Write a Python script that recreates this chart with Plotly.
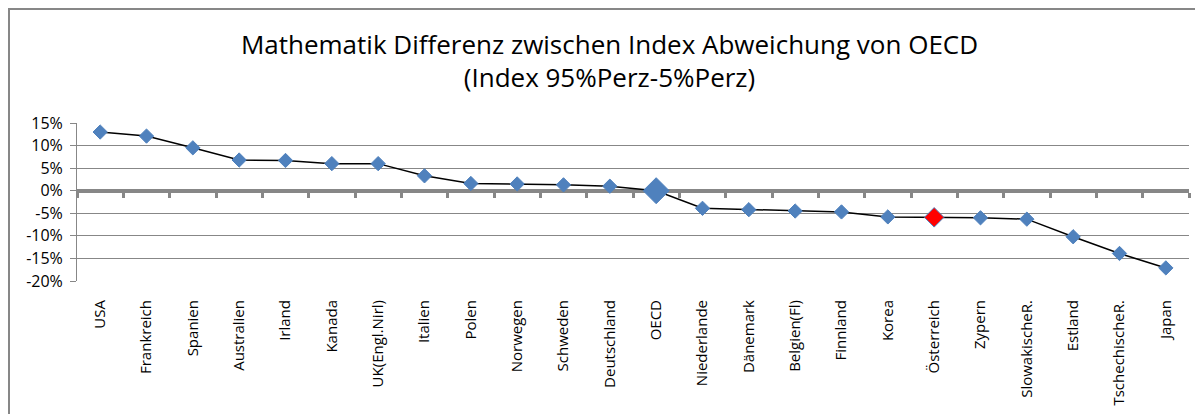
import plotly.graph_objects as go

laender = ["USA", "Frankreich", "Spanien", "Australien", "Irland", "Kanada", "UK(Engl.Nirl)",
           "Italien", "Polen", "Norwegen", "Schweden", "Deutschland", "OECD", "Niederlande",
           "Dänemark", "Belgien(Fl)", "Finnland", "Korea", "Österreich", "Zypern",
           "SlowakischeR.", "Estland", "TschechischeR.", "Japan"]
abweichung = [13.0, 12.1, 9.5, 6.8, 6.7, 6.0, 6.0, 3.3, 1.6, 1.5, 1.3, 1.0, 0.0, -3.9,
              -4.2, -4.5, -4.7, -5.8, -5.9, -6.0, -6.3, -10.2, -13.9, -17.1]
y_ticks = [15, 10, 5, 0, -5, -10, -15, -20]

blau = "#4F81BD"
grau = "#878787"

farben = []
groessen = []
for land in laender:
    if land == "OECD":
        farben.append(blau)
        groessen.append(20)
    elif land == "Österreich":
        farben.append("red")
        groessen.append(15)
    else:
        farben.append(blau)
        groessen.append(11)

fig = go.Figure()

# dummy trace so the crossing category axis at 0 gets its ticks
fig.add_trace(go.Scatter(x=laender, y=[None] * len(laender), xaxis="x2", yaxis="y",
                         mode="markers", showlegend=False, hoverinfo="skip"))

fig.add_trace(go.Scatter(
    x=laender, y=abweichung, mode="lines+markers",
    line=dict(color="black", width=1.5),
    marker=dict(symbol="diamond", color=farben, size=groessen, opacity=1,
                line=dict(color=blau, width=1)),
    showlegend=False,
))

ymin, ymax = -20, 15
fig.update_layout(
    width=1203, height=414,
    margin=dict(l=69, r=22, t=115, b=141),
    paper_bgcolor="white", plot_bgcolor="white",
    font=dict(family="Open Sans", color="black", size=15),
    title=dict(text="Mathematik Differenz zwischen Index Abweichung von OECD<br>(Index 95%Perz-5%Perz)",
               x=0.5, xref="container", xanchor="center", y=0.89, yref="container", yanchor="top",
               font=dict(family="Open Sans", size=26, color="black")),
    xaxis=dict(type="category", categoryorder="array", categoryarray=laender,
               range=[-0.5, len(laender) - 0.5],
               showgrid=False, showline=False, zeroline=False,
               ticks="outside", ticklen=12, tickcolor="rgba(0,0,0,0)",
               tickangle=-90, tickfont=dict(size=15)),
    xaxis2=dict(type="category", categoryorder="array", categoryarray=laender,
                range=[-0.5, len(laender) - 0.5], overlaying="x", anchor="free",
                position=(0 - ymin) / (ymax - ymin),
                showline=True, linecolor=grau, linewidth=4,
                ticks="outside", tickson="boundaries", ticklen=5, tickwidth=3, tickcolor=grau,
                showticklabels=False, showgrid=False, zeroline=False, layer="below traces"),
    yaxis=dict(range=[ymin, ymax], tickvals=y_ticks,
               ticktext=[f"{v}%" for v in y_ticks],
               showgrid=True, gridcolor=grau, gridwidth=1,
               showline=True, linecolor=grau, linewidth=1,
               ticks="outside", ticklen=6, tickcolor=grau, ticklabelstandoff=4,
               zeroline=False, tickfont=dict(size=16)),
)

# chart border (the page is offset by the browser's body margin)
fig.add_shape(type="rect", xref="paper", yref="paper",
              x0=-68 / 1112, x1=1.2, y0=-1.2, y1=(273 - 1) / 158,
              line=dict(color=grau, width=2), fillcolor="rgba(0,0,0,0)", layer="below")

fig.write_html("out.html")
